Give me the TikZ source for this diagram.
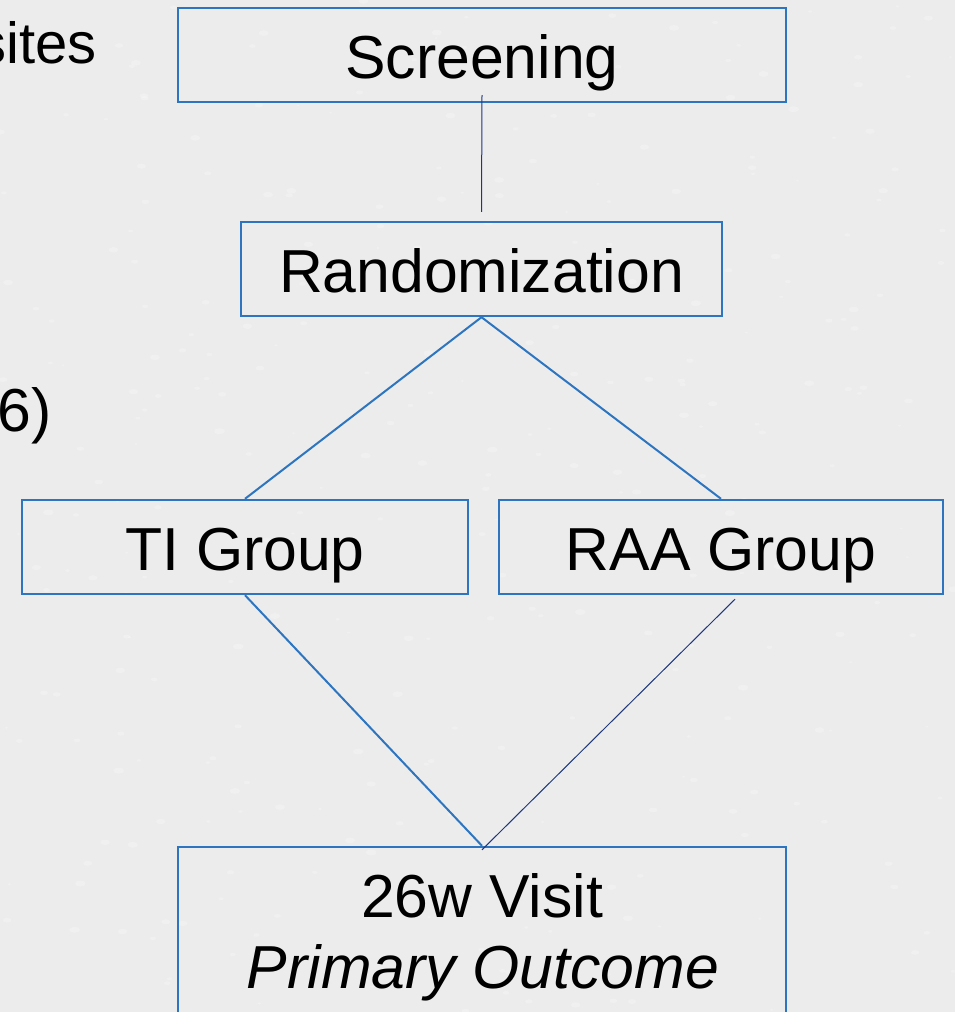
\documentclass[tikz,border=0pt]{standalone}
\usepackage{fontspec}
\setmainfont{Liberation Sans}
\usetikzlibrary{calc}
\definecolor{bgcol}{RGB}{236,236,236}
\definecolor{boxblue}{RGB}{46,117,192}
\definecolor{linenavy}{RGB}{30,55,125}
\begin{document}
\begin{tikzpicture}[x=1pt,y=-1pt,
  every node/.style={font=\fontsize{60.7}{72}\selectfont},
  flowbox/.style={draw=boxblue,line width=2.4pt,fill=none,inner sep=0pt,text height=46pt,text depth=0pt},
  thickconn/.style={draw=boxblue,line width=2pt},
  thinconn/.style={draw=linenavy,line width=1pt},
  plain/.style={inner sep=0pt},
  speck/.style={fill=white,opacity=0.25}]
\useasboundingbox (0,0) rectangle (955,1012);
\clip (0,0) rectangle (955,1012);
\fill[bgcol] (0,0) rectangle (955,1012);
% subtle background texture
\pgfmathsetseed{7}
\foreach \k in {1,...,320}{
  \pgfmathsetmacro{\px}{955*rnd}
  \pgfmathsetmacro{\py}{1012*rnd}
  \pgfmathsetmacro{\pr}{0.8+2.2*rnd}
  \fill[speck] (\px,\py) ellipse ({\pr*1.8} and \pr);
}
% cut-off texts on the left
\node[plain,anchor=base east,font=\fontsize{58}{70}\selectfont] (sites) at (97,63) {sites};
\node[plain,anchor=base east] (six) at (52,431) {6)};
% boxes
\node[flowbox,minimum width=608pt,minimum height=94pt] (scr) at (482,55) {Screening};
\node[flowbox,minimum width=481pt,minimum height=94pt] (rand) at (481.5,269) {Randomization};
\node[flowbox,minimum width=446pt,minimum height=94pt] (ti) at (245,547) {TI Group};
\node[flowbox,minimum width=444pt,minimum height=94pt] (raa) at (721,547) {RAA Group};
\node[draw=boxblue,line width=2.4pt,inner sep=0pt,minimum width=608pt,minimum height=220pt] (vis) at (482,957) {};
\node[plain,anchor=base] (vist1) at (482,917) {26w Visit};
\node[plain,anchor=base] (vist2) at (483,988) {\itshape Primary Outcome};
% connectors
\coordinate (scrout) at ($(scr.south)+(0,-8)$);
\coordinate (randin) at ($(rand.north)+(0,-9)$);
\draw[thinconn] (scrout) -- (randin);
\draw[thickconn] (rand.south) -- (ti.north);
\draw[thickconn] (rand.south) -- (raa.north);
\draw[thickconn] (ti.south) -- (vis.north);
\coordinate (raaout) at ($(raa.south)+(14,4)$);
\coordinate (visin) at ($(vis.north)+(0,4)$);
\draw[thinconn] (raaout) -- (visin);
\end{tikzpicture}
\end{document}
